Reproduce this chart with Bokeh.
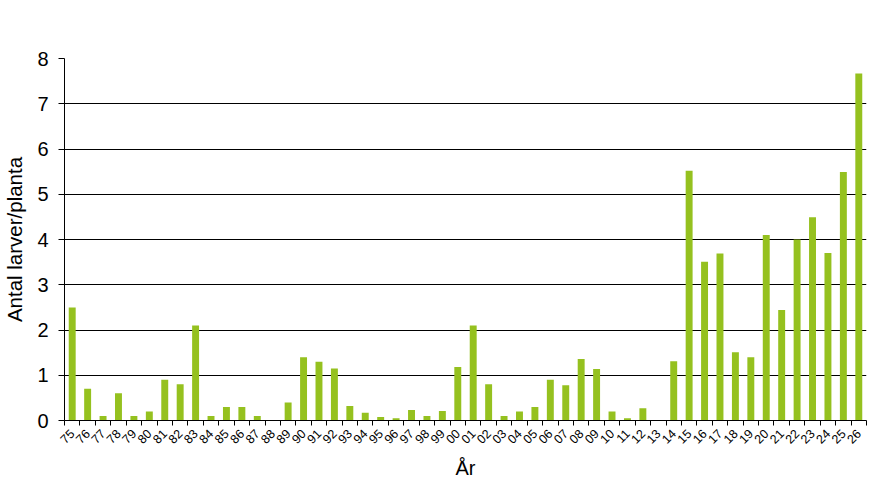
import math
from bokeh.plotting import figure
from bokeh.models import Range1d, FixedTicker, ColumnDataSource
from bokeh.embed import file_html
from bokeh.resources import INLINE

years = ["75","76","77","78","79","80","81","82","83","84","85","86","87","88","89",
         "90","91","92","93","94","95","96","97","98","99",
         "00","01","02","03","04","05","06","07","08","09","10","11","12","13","14",
         "15","16","17","18","19","20","21","22","23","24","25","26"]
values = [2.5, 0.7, 0.1, 0.6, 0.1, 0.2, 0.9, 0.8, 2.1, 0.1, 0.3, 0.3, 0.1, 0.0, 0.4,
          1.4, 1.3, 1.15, 0.32, 0.17, 0.08, 0.05, 0.23, 0.1, 0.21,
          1.18, 2.1, 0.8, 0.1, 0.2, 0.3, 0.9, 0.78, 1.36, 1.14, 0.2, 0.05, 0.27, 0.0, 1.31,
          5.52, 3.51, 3.69, 1.51, 1.40, 4.10, 2.44, 4.0, 4.49, 3.70, 5.49, 7.67]
y_ticks = [0, 1, 2, 3, 4, 5, 6, 7, 8]

n = len(years)
centers = [i + 0.5 for i in range(n)]
source = ColumnDataSource(dict(x=centers, top=values))

p = figure(width=870, height=486, output_backend="svg", toolbar_location=None,
           x_range=Range1d(0, n), y_range=Range1d(0, 8),
           min_border_left=64, min_border_right=4, min_border_top=58, min_border_bottom=66)
p.outline_line_color = None
p.background_fill_color = "white"
p.border_fill_color = "white"

p.vbar(x="x", top="top", width=0.45, source=source, color="#95C11F", line_color=None)

p.xgrid.visible = False
p.ygrid.ticker = FixedTicker(ticks=y_ticks)
p.ygrid.grid_line_color = "black"
p.ygrid.grid_line_width = 1

xa = p.xaxis[0]
xa.ticker = FixedTicker(ticks=centers, minor_ticks=list(range(n + 1)))
xa.major_label_overrides = {c: y for c, y in zip(centers, years)}
xa.major_label_orientation = math.pi / 4
xa.major_tick_out = 0
xa.major_tick_in = 0
xa.minor_tick_out = 5
xa.minor_tick_in = 0
xa.minor_tick_line_color = "black"
xa.axis_line_color = "black"
xa.major_label_text_font = "Liberation Sans"
xa.major_label_text_font_size = "12.5px"
xa.major_label_text_color = "black"
xa.major_label_standoff = 6
xa.axis_label = "År"
xa.axis_label_text_font = "Liberation Sans"
xa.axis_label_text_font_size = "20px"
xa.axis_label_text_font_style = "normal"
xa.axis_label_text_color = "black"
xa.axis_label_standoff = 6

ya = p.yaxis[0]
ya.ticker = FixedTicker(ticks=y_ticks)
ya.minor_tick_line_color = None
ya.major_tick_out = 6
ya.major_tick_in = 0
ya.major_tick_line_color = "black"
ya.axis_line_color = "black"
ya.major_label_text_font = "Liberation Sans"
ya.major_label_text_font_size = "20px"
ya.major_label_text_color = "black"
ya.major_label_standoff = 10
ya.axis_label = "Antal larver/planta"
ya.axis_label_text_font = "Liberation Sans"
ya.axis_label_text_font_size = "20.5px"
ya.axis_label_text_font_style = "normal"
ya.axis_label_text_color = "black"
ya.axis_label_standoff = 8

open("out.html", "w").write(file_html(p, INLINE))
